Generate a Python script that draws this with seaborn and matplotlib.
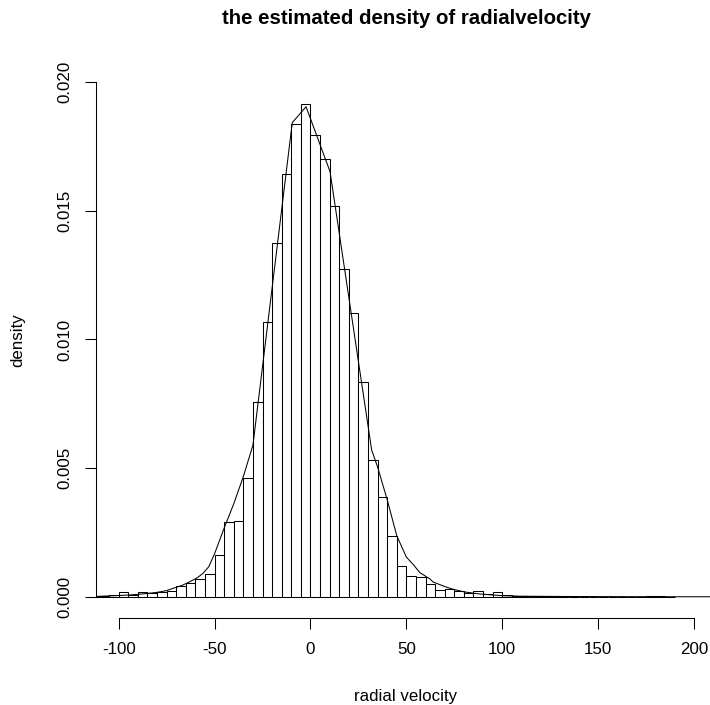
import matplotlib
matplotlib.use("Agg")
import matplotlib.pyplot as plt
import seaborn as sns

# histogram: left edges of 5-wide bins and their densities
bin_left = list(range(-115, 190, 5))
bin_density = [
    0.00005, 0.00004, 0.00006, 0.00019, 0.00009, 0.00019, 0.00014, 0.00018,
    0.00023, 0.00041, 0.00053, 0.00069, 0.00089, 0.00162, 0.00291, 0.00295,
    0.00461, 0.00758, 0.01069, 0.01375, 0.01644, 0.01836, 0.01916, 0.01795,
    0.01701, 0.01520, 0.01274, 0.01102, 0.00835, 0.00531, 0.00388, 0.00237,
    0.00120, 0.00082, 0.00078, 0.00051, 0.00027, 0.00031, 0.00023, 0.00017,
    0.00025, 0.00010, 0.00018, 0.00008, 0.00004, 0.00002, 0.00002, 0.00003,
    0.00003, 0.00001, 0.00001, 0.0, 0.00001, 0.0, 0.0, 0.00001,
    0.0, 0.0, 0.00003, 0.00003, 0.00001,
]
bin_edges = bin_left + [bin_left[-1] + 5]
bin_mid = [b + 2.5 for b in bin_left]

# estimated density curve
dens_x = [-125, -112, -106, -99, -92, -86, -80, -75, -71.5, -67, -63, -59,
          -56, -53, -50, -45, -40, -35, -30, -9.5, -2.3, 10.2, 31.9, 35,
          40, 45, 50, 53.6, 57, 62.3, 64, 71, 74.5, 80, 88, 100, 110, 130,
          180, 220]
dens_y = [0.00001, 0.00002, 0.00004, 0.00006, 0.00009, 0.00013, 0.00018,
          0.00025, 0.00034, 0.00045, 0.00059, 0.00075, 0.00092, 0.00118,
          0.00168, 0.00268, 0.00362, 0.00468, 0.00590, 0.01842, 0.01904,
          0.01652, 0.00571, 0.00505, 0.00378, 0.00238, 0.00155, 0.00126,
          0.00095, 0.00070, 0.00058, 0.00038, 0.00030, 0.00020, 0.00012,
          0.00005, 0.00003, 0.00002, 0.00001, 0.00001]

x_ticks = [-100, -50, 0, 50, 100, 150, 200]
y_ticks = [0.000, 0.005, 0.010, 0.015, 0.020]

sns.set_style("white")
plt.rcParams["font.family"] = ["Liberation Sans", "DejaVu Sans"]
plt.rcParams["axes.unicode_minus"] = False
plt.rcParams["text.color"] = "black"

fig = plt.figure(figsize=(7.10, 7.05), dpi=100)
W, H = 710, 705
ax = fig.add_axes([95.7 / W, 1 - 617.6 / H, 621.3 / W, 556.2 / H])

sns.histplot(x=bin_mid, weights=bin_density, bins=bin_edges, stat="count",
             facecolor="white", edgecolor="black", linewidth=0.75, alpha=1,
             ax=ax)
sns.lineplot(x=dens_x, y=dens_y, color="black", linewidth=0.75, ax=ax)

ax.set_xlim(-112, 212)
ax.set_ylim(-0.0008, 0.0208)
ax.set_xlabel("")
ax.set_ylabel("")

for s in ["top", "right"]:
    ax.spines[s].set_visible(False)
for s in ["left", "bottom"]:
    ax.spines[s].set_linewidth(0.75)
    ax.spines[s].set_color("black")
ax.spines["left"].set_bounds(0, 0.02)
ax.spines["bottom"].set_bounds(-100, 200)

ax.set_xticks(x_ticks)
ax.set_xticklabels([str(t) for t in x_ticks])
ax.set_yticks(y_ticks)
ax.set_yticklabels([f"{t:.3f}" for t in y_ticks], rotation=90, va="center")
ax.tick_params(axis="both", direction="out", length=7.9, width=0.75,
               color="black", labelsize=12.2, labelcolor="black",
               bottom=True, left=True)
ax.tick_params(axis="x", pad=10)
ax.tick_params(axis="y", pad=9)

fig.text(406 / W, 1 - 24 / H, "the estimated density of radialvelocity",
         ha="center", va="baseline", fontsize=14.7, fontweight="bold",
         color="black")
fig.text(406 / W, 1 - 697 / H, "radial velocity", ha="center", va="center",
         fontsize=12.2, color="black")
fig.text(18 / W, 1 - 340 / H, "density", ha="center", va="center",
         rotation=90, fontsize=12.2, color="black")

fig.savefig("out.png", dpi=100)
